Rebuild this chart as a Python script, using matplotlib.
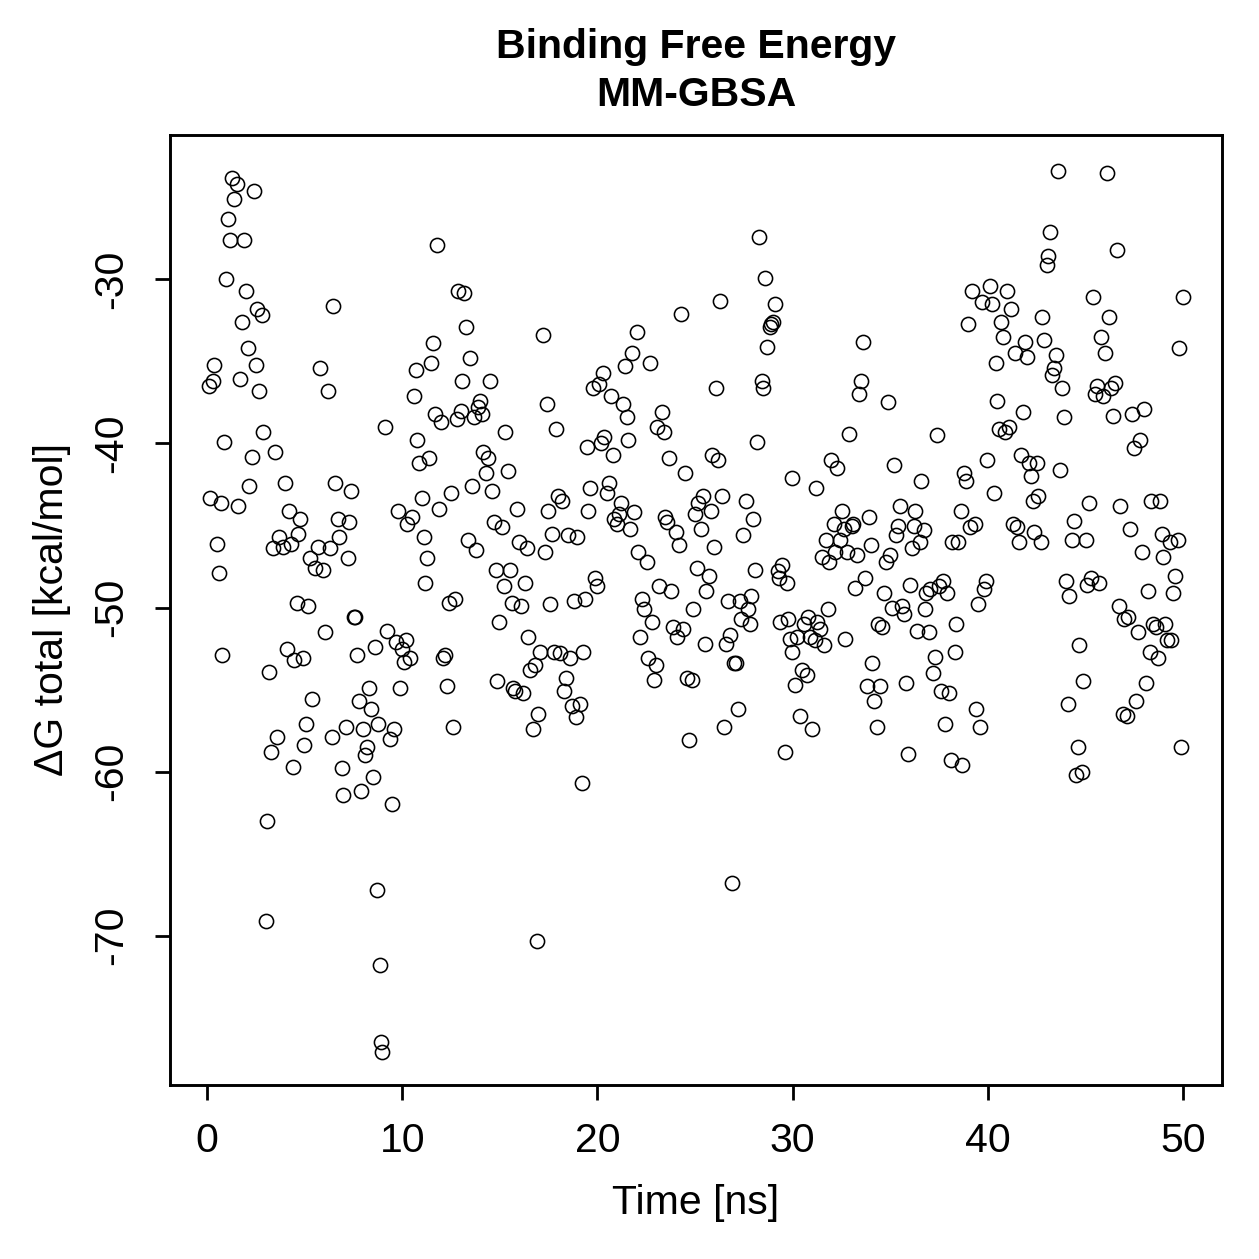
import matplotlib
matplotlib.use("Agg")
import matplotlib.pyplot as plt

plt.rcParams['font.family'] = ['Liberation Sans', 'DejaVu Sans']
plt.rcParams['axes.unicode_minus'] = False

# (time [ns], dG total [kcal/mol])
seg_00_09 = [(0.10,-36.5),(0.15,-43.3),(0.31,-36.2),(0.36,-35.2),(0.51,-46.1),(0.61,-47.9),(0.72,-43.6),(0.77,-52.9),(0.87,-39.9),(0.97,-30.0),(1.08,-26.3),(1.18,-27.6),(1.28,-23.8),(1.38,-25.1),(1.54,-24.2),(1.59,-43.8),(1.69,-36.1),(1.79,-32.6),(1.90,-27.6),(2.00,-30.7),(2.10,-34.2),(2.15,-42.6),(2.31,-40.8),(2.41,-24.6),(2.51,-35.2),(2.56,-31.8),(2.66,-36.8),(2.82,-32.2),(2.87,-39.3),(3.02,-69.1),(3.07,-63.0),(3.18,-53.9),(3.28,-58.8),(3.38,-46.4),(3.48,-40.5),(3.59,-57.9),(3.69,-45.7),(3.89,-46.3),(4.00,-42.4),(4.10,-52.5),(4.20,-44.1),(4.30,-46.1),(4.41,-59.7),(4.46,-53.2),(4.61,-49.7),(4.66,-45.5),(4.76,-44.6),(4.92,-53.1),(4.97,-58.4),(5.07,-57.1),(5.17,-49.9),(5.28,-47.0),(5.38,-55.6),(5.53,-47.6),(5.69,-46.3),(5.79,-35.4),(5.94,-47.7),(6.05,-51.5),(6.20,-36.8),(6.30,-46.4),(6.40,-57.9),(6.45,-31.6),(6.56,-42.4),(6.71,-44.6),(6.76,-45.7),(6.92,-59.8),(6.97,-61.4),(7.12,-57.3),(7.22,-47.0),(7.27,-44.8),(7.38,-42.9),(7.53,-50.6),(7.58,-50.6),(7.68,-52.9),(7.79,-55.7),(7.89,-61.2),(7.99,-57.4),(8.09,-59.0),(8.20,-58.5),(8.30,-54.9),(8.40,-56.2),(8.50,-60.3),(8.61,-52.4),(8.71,-67.2),(8.76,-57.1),(8.86,-71.8),(8.91,-76.5),(8.97,-77.1),(9.12,-39.0),(9.22,-51.4)]

seg_09_20 = [(9.37,-58.0),(9.48,-62.0),(9.58,-57.4),(9.68,-52.1),(9.78,-44.1),(9.89,-54.9),(9.99,-52.5),(10.09,-53.3),(10.19,-52.0),(10.25,-44.9),(10.40,-53.1),(10.50,-44.5),(10.60,-37.1),(10.71,-35.5),(10.76,-39.8),(10.86,-41.2),(11.01,-43.3),(11.12,-45.7),(11.17,-48.5),(11.27,-47.0),(11.37,-40.9),(11.48,-35.1),(11.58,-33.9),(11.68,-38.2),(11.78,-27.9),(11.89,-44.0),(11.99,-38.7),(12.09,-53.1),(12.19,-52.9),(12.29,-54.8),(12.40,-49.7),(12.50,-43.0),(12.60,-57.3),(12.70,-49.5),(12.81,-38.5),(12.86,-30.7),(13.01,-38.0),(13.06,-36.2),(13.17,-30.8),(13.27,-32.9),(13.37,-45.9),(13.47,-34.8),(13.58,-42.6),(13.68,-38.4),(13.78,-46.5),(13.88,-37.8),(13.99,-37.4),(14.09,-38.2),(14.14,-40.5),(14.29,-41.8),(14.40,-40.9),(14.50,-36.2),(14.60,-42.9),(14.70,-44.8),(14.80,-47.7),(14.86,-54.5),(14.96,-50.9),(15.11,-45.1),(15.21,-48.7),(15.27,-39.3),(15.42,-41.7),(15.52,-47.7),(15.62,-49.7),(15.68,-54.9),(15.78,-55.1),(15.88,-44.0),(15.98,-46.0),(16.09,-49.9),(16.19,-55.2),(16.29,-48.5),(16.39,-46.4),(16.44,-51.8),(16.55,-53.8),(16.70,-57.4),(16.80,-53.5),(16.91,-70.3),(16.96,-56.5),(17.06,-52.7),(17.21,-33.4),(17.32,-46.6),(17.42,-37.6),(17.47,-44.1),(17.57,-49.8),(17.67,-45.5),(17.78,-52.7),(17.88,-39.1),(17.98,-43.2),(18.08,-52.8),(18.19,-43.5),(18.29,-55.1),(18.39,-54.3),(18.49,-45.6),(18.60,-53.1),(18.70,-56.0),(18.80,-49.6),(18.90,-56.7),(18.95,-45.7),(19.11,-55.9),(19.21,-60.7),(19.26,-52.7),(19.36,-49.5),(19.47,-40.2),(19.52,-44.1),(19.62,-42.7)]

seg_20_30 = [(19.77,-36.6),(19.88,-48.2),(19.98,-48.7),(20.08,-36.4),(20.18,-40.0),(20.29,-35.7),(20.34,-39.6),(20.49,-43.0),(20.59,-42.4),(20.70,-37.1),(20.80,-40.7),(20.85,-44.6),(21.00,-44.9),(21.11,-44.3),(21.21,-43.6),(21.31,-37.6),(21.41,-35.3),(21.52,-38.4),(21.57,-39.8),(21.67,-45.2),(21.77,-34.5),(21.87,-44.2),(22.03,-33.2),(22.08,-46.6),(22.18,-51.8),(22.28,-49.5),(22.39,-50.1),(22.54,-47.2),(22.59,-53.1),(22.69,-35.1),(22.80,-50.9),(22.90,-54.4),(23.00,-53.5),(23.05,-39.0),(23.16,-48.7),(23.31,-38.1),(23.41,-39.3),(23.46,-44.5),(23.57,-44.8),(23.67,-40.9),(23.77,-49.0),(23.87,-51.2),(24.03,-45.4),(24.08,-51.8),(24.18,-46.2),(24.28,-32.1),(24.39,-51.3),(24.49,-41.8),(24.59,-54.3),(24.69,-58.1),(24.85,-54.4),(24.90,-50.1),(25.00,-44.3),(25.10,-47.6),(25.15,-43.6),(25.31,-45.2),(25.41,-43.2),(25.51,-52.2),(25.56,-49.0),(25.72,-48.1),(25.82,-44.1),(25.87,-40.7),(25.97,-46.3),(26.08,-36.6),(26.18,-41.0),(26.28,-31.3),(26.38,-43.2),(26.49,-57.3),(26.59,-52.2),(26.69,-49.6),(26.79,-51.7),(26.90,-66.8),(27.00,-53.4),(27.10,-53.4),(27.20,-56.2),(27.30,-49.6),(27.36,-50.7),(27.46,-45.6),(27.61,-43.5),(27.71,-50.1),(27.82,-51.0),(27.87,-49.3),(27.97,-44.6),(28.07,-47.7),(28.18,-39.9),(28.28,-27.4),(28.43,-36.2),(28.48,-36.6),(28.59,-29.9),(28.69,-34.1),(28.84,-32.9),(28.89,-32.7),(29.00,-32.6),(29.10,-31.5),(29.25,-47.8),(29.30,-48.2),(29.35,-50.9),(29.46,-47.4),(29.61,-58.8),(29.71,-48.5),(29.76,-50.7),(29.87,-51.9),(29.97,-42.1),(29.97,-52.7)]

seg_30_41 = [(30.12,-54.7),(30.23,-51.8),(30.38,-56.6),(30.48,-53.8),(30.58,-51.0),(30.74,-54.1),(30.79,-50.6),(30.89,-51.8),(30.99,-57.4),(31.15,-52.0),(31.20,-42.7),(31.25,-50.9),(31.40,-51.3),(31.51,-46.9),(31.61,-52.3),(31.71,-45.9),(31.81,-50.1),(31.86,-47.2),(31.97,-41.0),(32.12,-44.9),(32.17,-46.6),(32.27,-41.5),(32.43,-45.9),(32.53,-44.1),(32.63,-45.2),(32.68,-51.9),(32.79,-46.6),(32.89,-39.4),(33.04,-45.0),(33.09,-44.9),(33.20,-48.8),(33.30,-46.8),(33.40,-37.0),(33.50,-36.2),(33.61,-33.8),(33.71,-48.2),(33.81,-54.8),(33.91,-44.5),(34.02,-46.2),(34.07,-53.4),(34.17,-55.7),(34.32,-57.3),(34.37,-51.0),(34.48,-54.8),(34.58,-51.2),(34.68,-49.1),(34.78,-47.2),(34.89,-37.5),(34.99,-46.8),(35.09,-50.0),(35.19,-41.3),(35.30,-45.6),(35.40,-45.0),(35.50,-43.8),(35.60,-49.9),(35.71,-50.4),(35.81,-54.6),(35.91,-58.9),(36.01,-48.6),(36.12,-46.4),(36.22,-45.0),(36.27,-44.1),(36.37,-51.4),(36.53,-46.0),(36.58,-42.3),(36.73,-45.3),(36.78,-50.1),(36.83,-49.1),(36.99,-51.5),(37.04,-48.9),(37.19,-54.0),(37.30,-53.0),(37.40,-39.5),(37.50,-48.7),(37.60,-55.1),(37.70,-48.4),(37.81,-57.1),(37.91,-49.1),(38.01,-55.2),(38.11,-59.3),(38.17,-46.0),(38.32,-52.7),(38.37,-51.0),(38.47,-46.0),(38.63,-44.1),(38.68,-59.6),(38.78,-41.8),(38.88,-42.3),(38.98,-32.7),(39.09,-45.1),(39.19,-30.7),(39.34,-44.9),(39.39,-56.2),(39.50,-49.8),(39.60,-57.3),(39.70,-31.4),(39.80,-48.9),(39.91,-48.4),(39.96,-41.0),(40.11,-30.4),(40.21,-31.5),(40.32,-43.0),(40.42,-35.1),(40.47,-37.4),(40.57,-39.1),(40.68,-32.6),(40.78,-33.5)]

seg_41_50 = [(40.88,-39.3),(40.98,-30.7),(41.09,-39.0),(41.19,-31.8),(41.29,-44.9),(41.39,-34.5),(41.50,-45.1),(41.60,-46.0),(41.70,-40.7),(41.80,-38.1),(41.91,-33.8),(42.01,-34.7),(42.11,-41.2),(42.21,-42.0),(42.32,-43.5),(42.37,-45.4),(42.52,-41.2),(42.57,-43.2),(42.73,-46.0),(42.78,-32.3),(42.88,-33.7),(43.03,-29.1),(43.08,-28.6),(43.19,-27.1),(43.29,-35.8),(43.39,-35.4),(43.49,-34.6),(43.60,-23.4),(43.70,-41.6),(43.80,-36.6),(43.90,-38.4),(44.01,-48.4),(44.11,-55.9),(44.16,-49.3),(44.31,-45.9),(44.42,-44.7),(44.52,-60.2),(44.62,-58.5),(44.67,-52.3),(44.83,-60.0),(44.88,-54.5),(45.03,-45.9),(45.08,-48.6),(45.18,-43.6),(45.29,-48.2),(45.39,-31.1),(45.49,-37.0),(45.59,-36.5),(45.70,-48.5),(45.80,-33.5),(45.90,-37.1),(46.00,-34.5),(46.11,-23.5),(46.21,-32.3),(46.31,-36.6),(46.41,-38.3),(46.52,-36.3),(46.62,-28.2),(46.72,-49.9),(46.77,-43.8),(46.93,-56.5),(46.98,-50.7),(47.13,-56.6),(47.18,-50.6),(47.28,-45.2),(47.39,-38.2),(47.49,-40.3),(47.59,-55.7),(47.69,-51.5),(47.80,-39.8),(47.90,-46.6),(48.00,-37.9),(48.10,-54.6),(48.21,-49.0),(48.31,-52.7),(48.36,-43.5),(48.46,-51.0),(48.62,-51.2),(48.72,-53.1),(48.82,-43.5),(48.92,-45.5),(48.98,-46.9),(49.08,-51.0),(49.18,-52.0),(49.33,-46.0),(49.39,-52.0),(49.49,-49.1),(49.59,-48.1),(49.74,-45.9),(49.80,-34.2),(49.90,-58.5),(50.00,-31.1)]

x_ticks = [0, 10, 20, 30, 40, 50]
y_ticks = [-70, -60, -50, -40, -30]
y_tick_labels = ['-70', '-60', '-50', '-40', '-30']
title_lines = ['Binding Free Energy', 'MM-GBSA']
x_label = 'Time [ns]'
y_label = '\u0394G total [kcal/mol]'

points = seg_00_09 + seg_09_20 + seg_20_30 + seg_30_41 + seg_41_50
time = [p[0] for p in points]
dg = [p[1] for p in points]

W = H = 1259
fig = plt.figure(figsize=(12.59, 12.59), dpi=100)
ax = fig.add_axes([170 / W, 1 - 1085 / H, (1222 - 170) / W, (1085 - 135) / H])
ax.plot(time, dg, linestyle='none', marker='o', markersize=10.2,
        markerfacecolor='none', markeredgecolor='black', markeredgewidth=1.15)
ax.set_xlim(-1.9, 52.0)
ax.set_ylim(-79.1, -21.2)
for s in ax.spines.values():
    s.set_linewidth(2.1)
ax.set_xticks(x_ticks)
ax.set_xticklabels([str(v) for v in x_ticks])
ax.set_yticks(y_ticks)
ax.set_yticklabels(y_tick_labels, rotation=90, va='center')
ax.tick_params(axis='both', direction='out', length=11, width=2.0,
               labelsize=29.5, colors='black')
ax.tick_params(axis='x', pad=16)
ax.tick_params(axis='y', pad=18)

fig.text(696 / W, 1 - 47 / H, title_lines[0], ha='center', va='center',
         fontsize=29.5, fontweight='bold')
fig.text(696 / W, 1 - 95 / H, title_lines[1], ha='center', va='center',
         fontsize=29.5, fontweight='bold')
fig.text(696 / W, 1 - 1203 / H, x_label, ha='center', va='center', fontsize=29.5)
fig.text(52 / W, 1 - 610 / H, y_label, ha='center', va='center',
         fontsize=29.5, rotation=90)

fig.savefig('out.png', dpi=100, facecolor='white')
